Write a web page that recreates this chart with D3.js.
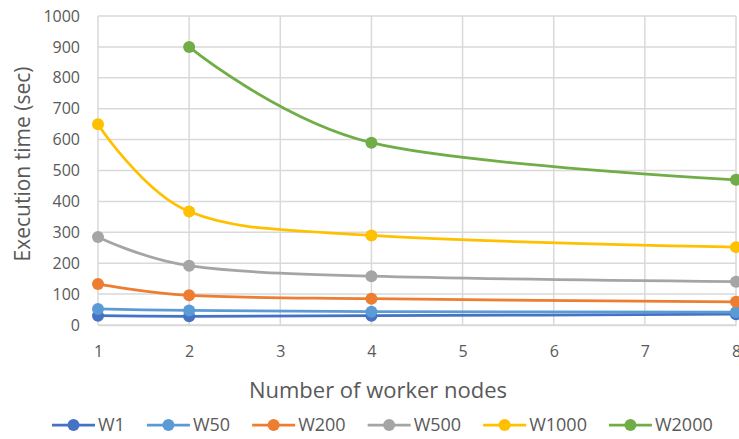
<!DOCTYPE html>
<html><head><meta charset="utf-8">
<script src="https://cdn.jsdelivr.net/npm/d3@7"></script>
<style>
body{margin:0;background:#fff;}
text{font-family:"Open Sans","Noto Sans",sans-serif;fill:#595959;}
</style></head>
<body><svg id="c" width="739" height="439"></svg>
<script>
const nodes = [1, 2, 4, 8];
const xTicks = [1, 2, 3, 4, 5, 6, 7, 8];
const yTicks = [0, 100, 200, 300, 400, 500, 600, 700, 800, 900, 1000];
const seriesNames = ["W1", "W50", "W200", "W500", "W1000", "W2000"];
const colors = ["#4472c4", "#5b9bd5", "#ed7d31", "#a5a5a5", "#ffc000", "#70ad47"];
const W1 = [30, 28, 30, 35];
const W50 = [52, 47, 43, 42];
const W200 = [133, 96, 85, 75];
const W500 = [285, 192, 158, 140];
const W1000 = [650, 367, 290, 252];
const W2000 = [null, 900, 590, 470];
const values = [W1, W50, W200, W500, W1000, W2000];

const svg = d3.select("#c");
const m = {l: 98, r: 736, t: 16, b: 325};
const x = d3.scaleLinear().domain([1, 8]).range([m.l, m.r]);
const y = d3.scaleLinear().domain([0, 1000]).range([m.b, m.t]);

// gridlines
svg.append("g").selectAll("line").data(yTicks).join("line")
  .attr("x1", m.l).attr("x2", m.r).attr("y1", d => y(d)).attr("y2", d => y(d))
  .attr("stroke", "#d9d9d9").attr("stroke-width", 1.5);
svg.append("g").selectAll("line").data(xTicks).join("line")
  .attr("y1", m.t).attr("y2", m.b).attr("x1", d => x(d)).attr("x2", d => x(d))
  .attr("stroke", "#d9d9d9").attr("stroke-width", 1.5);

// axes
const ya = svg.append("g").attr("transform", `translate(${m.l},0)`)
  .call(d3.axisLeft(y).tickValues(yTicks).tickSize(0).tickPadding(18).tickFormat(d3.format("d")));
ya.select(".domain").remove();
ya.selectAll("text").attr("font-size", 16).attr("fill", "#595959").attr("font-family", "'Open Sans',sans-serif");
const xa = svg.append("g").attr("transform", `translate(0,${m.b})`)
  .call(d3.axisBottom(x).tickValues(xTicks).tickSize(0).tickPadding(21).tickFormat(d3.format("d")));
xa.select(".domain").attr("stroke", "#d9d9d9").attr("stroke-width", 1.5);
xa.selectAll("text").attr("font-size", 16).attr("fill", "#595959").attr("font-family", "'Open Sans',sans-serif");

// titles
svg.append("text").attr("x", 378).attr("y", 398).attr("text-anchor", "middle")
  .attr("font-size", 22).text("Number of worker nodes");
svg.append("text").attr("transform", "translate(23,164) rotate(-90)").attr("text-anchor", "middle")
  .attr("dy", "0.35em").attr("font-size", 21).text("Execution time (sec)");

// series
const line = d3.line().defined(d => d[1] != null).x(d => x(d[0])).y(d => y(d[1]))
  .curve(d3.curveCardinal.tension(0));
values.forEach((vals, i) => {
  const pts = nodes.map((n, j) => [n, vals[j]]).filter(d => d[1] != null);
  svg.append("path").datum(pts).attr("d", line).attr("fill", "none")
    .attr("stroke", colors[i]).attr("stroke-width", 2.75).attr("stroke-linecap", "round");
  svg.append("g").selectAll("circle").data(pts).join("circle")
    .attr("cx", d => x(d[0])).attr("cy", d => y(d[1])).attr("r", 6).attr("fill", colors[i]);
});

// legend
const lg = svg.append("g");
let cx = 52;
seriesNames.forEach((name, i) => {
  const g = lg.append("g").attr("transform", `translate(${cx},425)`);
  g.append("line").attr("x1", 0).attr("x2", 43).attr("stroke", colors[i]).attr("stroke-width", 2.75);
  g.append("circle").attr("cx", 21.5).attr("r", 6).attr("fill", colors[i]);
  const t = g.append("text").attr("x", 46).attr("dy", "0.35em").attr("font-size", 18).text(name);
  cx += 46 + t.node().getComputedTextLength() + 22;
});
</script></body></html>
